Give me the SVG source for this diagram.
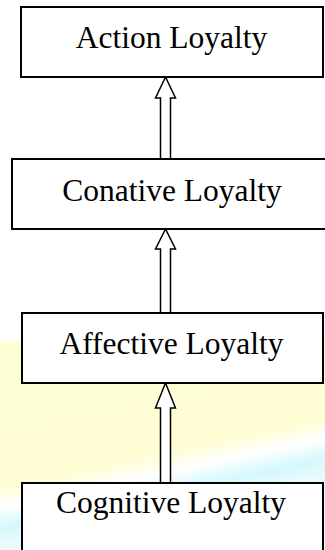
<svg xmlns="http://www.w3.org/2000/svg" width="325" height="550" viewBox="0 0 325 550">
  <defs>
    <linearGradient id="bg" gradientUnits="userSpaceOnUse" x1="160" y1="380" x2="190" y2="520">
      <stop offset="0" stop-color="#FFFFD6"/>
      <stop offset="0.5" stop-color="#FFFDD4"/>
      <stop offset="0.64" stop-color="#FFFFFF"/>
      <stop offset="0.78" stop-color="#D4F8FC"/>
      <stop offset="0.9" stop-color="#EAFAFC"/>
      <stop offset="1" stop-color="#F2FBFC"/>
    </linearGradient>
    <style>
      .box { fill: #FFFFFF; stroke: #000000; stroke-width: 2; }
      .lbl { font-family: "Liberation Serif", "Times New Roman", serif; font-size: 31.5px; fill: #000000; text-anchor: middle; }
      .arr { fill: #FFFFFF; stroke: #000000; stroke-width: 1.5; stroke-linejoin: miter; }
    </style>
  </defs>
  <rect x="0" y="0" width="325" height="550" fill="#FFFFFF"/>
  <rect x="0" y="340" width="325" height="210" fill="url(#bg)"/>
  <g id="connectors">
    <polygon class="arr" points="165.5,77 155.5,98 160.5,98 160.5,159 170.5,159 170.5,98 175.5,98"/>
    <polygon class="arr" points="165.5,229 155.5,249 160.5,249 160.5,313 170.5,313 170.5,249 175.5,249"/>
    <polygon class="arr" points="165.5,383 155.5,408 160.5,408 160.5,483 170.5,483 170.5,408 175.5,408"/>
  </g>
  <g id="action">
    <rect class="box" x="21" y="7" width="302" height="70"/>
    <text class="lbl" x="171.5" y="47.5">Action Loyalty</text>
  </g>
  <g id="conative">
    <rect class="box" x="12" y="159" width="316" height="70"/>
    <text class="lbl" x="172" y="200.5">Conative Loyalty</text>
  </g>
  <g id="affective">
    <rect class="box" x="22" y="313" width="301" height="70"/>
    <text class="lbl" x="171.5" y="353.5">Affective Loyalty</text>
  </g>
  <g id="cognitive">
    <rect class="box" x="22" y="483" width="301" height="80"/>
    <text class="lbl" x="171" y="512.5">Cognitive Loyalty</text>
  </g>
</svg>
